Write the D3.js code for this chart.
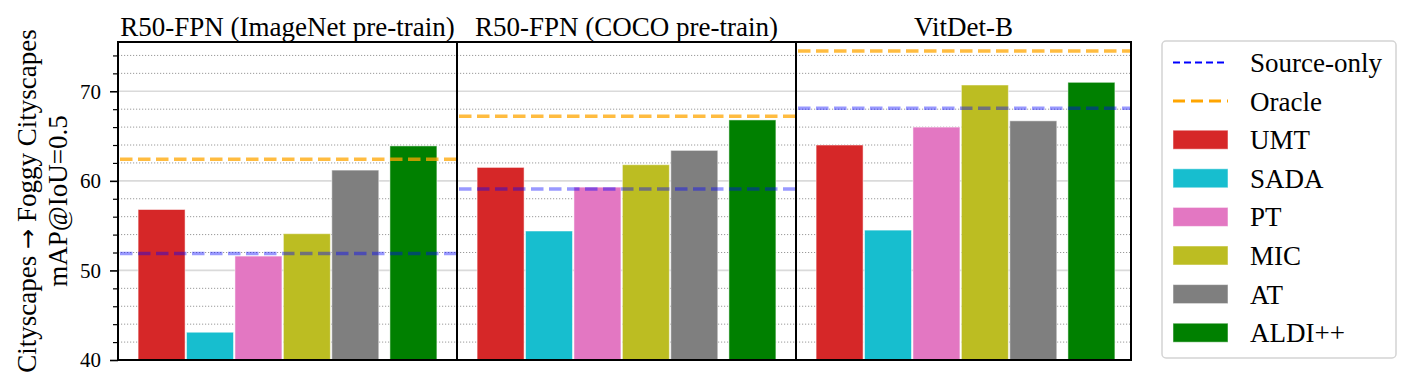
<!DOCTYPE html>
<html>
<head>
<meta charset="utf-8">
<script src="https://cdn.jsdelivr.net/npm/d3@7"></script>
<style>
  body { margin: 0; background: #fff; }
  svg { font-family: "Liberation Serif", "Times New Roman", serif; }
</style>
</head>
<body>
<svg id="chart" width="1412" height="389"></svg>
<script>
// chart data
const panelTitles = ["R50-FPN (ImageNet pre-train)", "R50-FPN (COCO pre-train)", "VitDet-B"];
const methods = ["UMT", "SADA", "PT", "MIC", "AT", "ALDI++"];
const imagenetVals = [56.8, 43.1, 51.6, 54.1, 61.2, 63.9];
const cocoVals = [61.5, 54.4, 59.3, 61.8, 63.4, 66.8];
const vitdetVals = [64.0, 54.5, 66.0, 70.7, 66.7, 71.0];
const sourceOnly = [51.9, 59.1, 68.1];
const oracle = [62.4, 67.2, 74.5];
const yTicks = [40, 50, 60, 70];
const yMinorTicks = [42, 44, 46, 48, 52, 54, 56, 58, 62, 64, 66, 68, 72, 74];

const panelVals = [imagenetVals, cocoVals, vitdetVals];
const colors = ["#d62728", "#17becf", "#e377c2", "#bcbd22", "#7f7f7f", "#008000"];
const slot = [0, 1, 2, 3, 4, 5.2];   // ALDI++ sits a bit apart

// layout
const plotTop = 42, plotBottom = 360;
const panelLeft = [118, 457, 796];
const panelRight = [457, 796, 1131];

const svg = d3.select("#chart");

const y = d3.scaleLinear().domain([40, 75.5]).range([plotBottom, plotTop]);

const defs = svg.append("defs");

panelTitles.forEach((title, p) => {
  const x0 = panelLeft[p], x1 = panelRight[p];
  const x = d3.scaleLinear().domain([-0.9, 6.1]).range([x0, x0 + 339]);
  const barW = (x(1) - x(0)) * 0.97;

  defs.append("clipPath").attr("id", "clip" + p)
    .append("rect")
      .attr("x", x0).attr("y", plotTop)
      .attr("width", x1 - x0).attr("height", plotBottom - plotTop);

  const g = svg.append("g").attr("clip-path", `url(#clip${p})`);

  // grid lines
  g.selectAll(".minor")
    .data(yMinorTicks)
    .enter()
    .append("line")
      .attr("x1", x0).attr("x2", x1)
      .attr("y1", d => y(d)).attr("y2", d => y(d))
      .attr("stroke", "#9a9a9a")
      .attr("stroke-width", 1)
      .attr("stroke-dasharray", "1.2,1.8");

  g.selectAll(".major")
    .data(yTicks.slice(1))
    .enter()
    .append("line")
      .attr("x1", x0).attr("x2", x1)
      .attr("y1", d => y(d)).attr("y2", d => y(d))
      .attr("stroke", "#dadada")
      .attr("stroke-width", 1.6);

  // bars
  g.selectAll(".bar")
    .data(panelVals[p])
    .enter()
    .append("rect")
      .attr("x", (d, i) => x(slot[i]) - barW / 2)
      .attr("width", barW)
      .attr("y", d => y(d))
      .attr("height", d => y(40) - y(d))
      .attr("fill", (d, i) => colors[i])
      .attr("stroke", "#fff")
      .attr("stroke-opacity", 0.5)
      .attr("stroke-width", 1);

  // source-only and oracle reference lines
  g.append("line")
    .attr("x1", x0 + 2).attr("x2", x1)
    .attr("y1", y(sourceOnly[p])).attr("y2", y(sourceOnly[p]))
    .attr("stroke", "blue")
    .attr("stroke-opacity", 0.4)
    .attr("stroke-width", 3.5)
    .attr("stroke-dasharray", "12.5,5.5");

  g.append("line")
    .attr("x1", x0 + 2).attr("x2", x1)
    .attr("y1", y(oracle[p])).attr("y2", y(oracle[p]))
    .attr("stroke", "orange")
    .attr("stroke-opacity", 0.75)
    .attr("stroke-width", 3.5)
    .attr("stroke-dasharray", "12.5,5.5");

  // panel frame
  svg.append("rect")
    .attr("x", x0).attr("y", plotTop)
    .attr("width", x1 - x0).attr("height", plotBottom - plotTop)
    .attr("fill", "none")
    .attr("stroke", "#000")
    .attr("stroke-width", 2);

  // panel title
  svg.append("text")
    .attr("x", (x0 + x1) / 2)
    .attr("y", 36)
    .attr("text-anchor", "middle")
    .style("font-size", "27px")
    .text(title);
});

// y axis on the first panel
const yAxis = svg.append("g")
    .attr("transform", `translate(${panelLeft[0]},0)`)
    .call(d3.axisLeft(y).tickValues(yTicks).tickSize(8).tickPadding(9));
yAxis.select(".domain").remove();
yAxis.selectAll("line").attr("stroke-width", 1.6);
yAxis.selectAll("text")
    .style("font-family", "Liberation Serif, serif")
    .style("font-size", "21px")
    .attr("fill", "#000");

const yMinor = svg.append("g")
    .attr("transform", `translate(${panelLeft[0]},0)`)
    .call(d3.axisLeft(y).tickValues(yMinorTicks).tickSize(5).tickFormat(""));
yMinor.select(".domain").remove();
yMinor.selectAll("line").attr("stroke-width", 1.2);

// y label, two lines
const midY = (plotTop + plotBottom) / 2;
const lab1 = svg.append("text")
  .attr("transform", `translate(36,${midY}) rotate(-90)`)
  .attr("text-anchor", "middle")
  .style("font-size", "27px");
lab1.append("tspan").text("Cityscapes ");
lab1.append("tspan").style("font-family", "DejaVu Sans").style("font-size", "24px").text("\u2192");
lab1.append("tspan").text(" Foggy Cityscapes");
svg.append("text")
  .attr("transform", `translate(67,${midY}) rotate(-90)`)
  .attr("text-anchor", "middle")
  .style("font-size", "27px")
  .text("mAP@IoU=0.5");

// legend
const legend = svg.append("g");
legend.append("rect")
  .attr("x", 1162).attr("y", 41)
  .attr("width", 234).attr("height", 317)
  .attr("rx", 4)
  .attr("fill", "#fff")
  .attr("stroke", "#d4d4d4")
  .attr("stroke-width", 1.5);

const rowY = i => 62.5 + i * 38.6;

legend.append("line")
  .attr("x1", 1173).attr("x2", 1228)
  .attr("y1", rowY(0)).attr("y2", rowY(0))
  .attr("stroke", "blue")
  .attr("stroke-width", 2)
  .attr("stroke-dasharray", "7,4");
legend.append("line")
  .attr("x1", 1173).attr("x2", 1228)
  .attr("y1", rowY(1)).attr("y2", rowY(1))
  .attr("stroke", "orange")
  .attr("stroke-width", 3)
  .attr("stroke-dasharray", "12,6");

legend.selectAll(".patch")
  .data(methods)
  .enter()
  .append("rect")
    .attr("x", 1173)
    .attr("y", (d, i) => rowY(i + 2) - 9.5)
    .attr("width", 55)
    .attr("height", 19)
    .attr("fill", (d, i) => colors[i])
    .attr("stroke", "#fff")
    .attr("stroke-opacity", 0.5);

legend.selectAll(".label")
  .data(["Source-only", "Oracle"].concat(methods))
  .enter()
  .append("text")
    .attr("x", 1250)
    .attr("y", (d, i) => rowY(i) + 9.5)
    .style("font-size", "27px")
    .text(d => d);
</script>
</body>
</html>
